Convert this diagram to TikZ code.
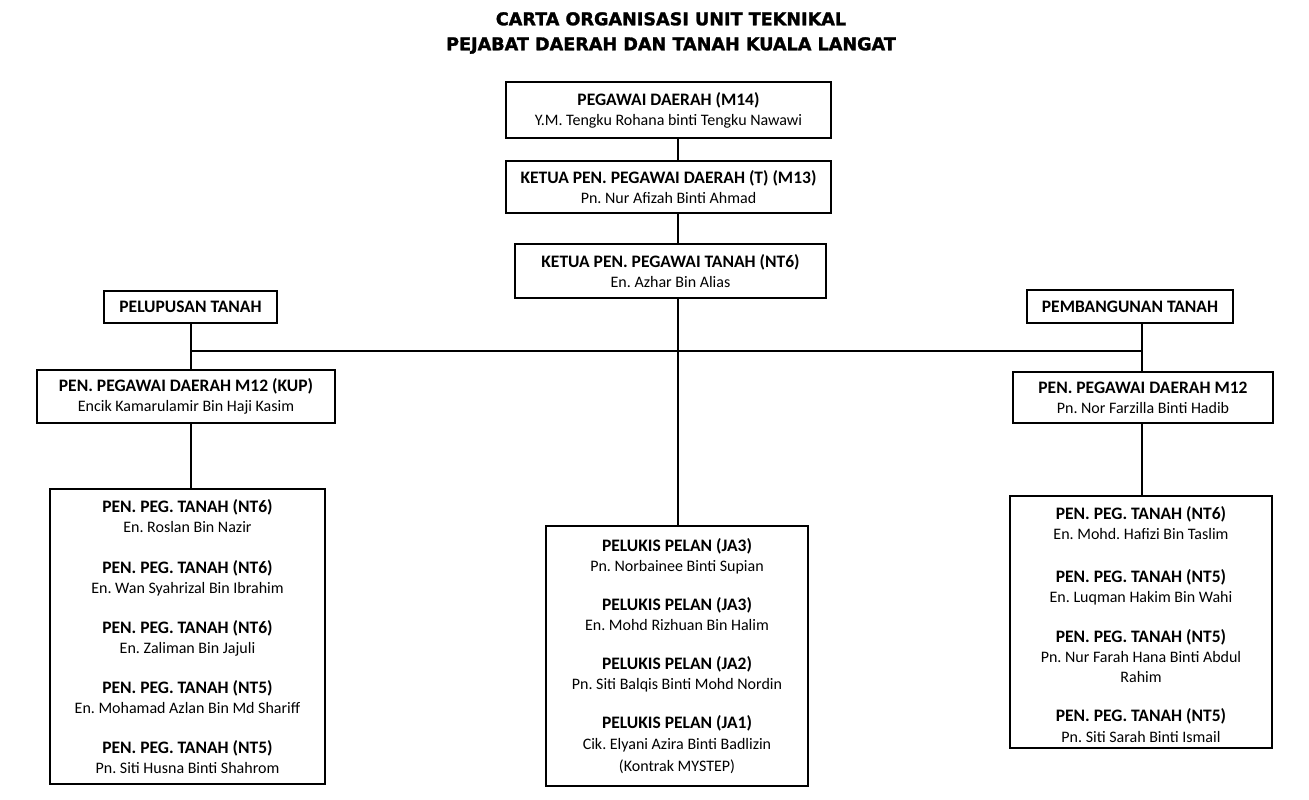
\documentclass[tikz,border=0pt]{standalone}
\usepackage{fontspec}
\setmainfont{Carlito}
\newfontfamily\titlefont{DejaVu Sans}[BoldFeatures={FakeBold=1.6}]
\frenchspacing
\tikzset{
  box/.style={draw, line width=1.6pt, align=center, inner sep=0pt,
    font=\fontsize{16}{20}\selectfont},
  link/.style={line width=2.6pt},
}
\newcommand{\jaw}[1]{{\fontsize{17.5}{20}\selectfont\bfseries #1}}
\begin{document}
\begin{tikzpicture}[x=1pt,y=-1pt]
  \useasboundingbox (0,0) rectangle (1309,800);
  % tajuk
  \node[font=\titlefont\bfseries\fontsize{17.6}{25}\selectfont, align=center] (tajuk)
    at (671,33) {CARTA ORGANISASI UNIT TEKNIKAL\\PEJABAT DAERAH DAN TANAH KUALA LANGAT};
  % pengurusan atas
  \node[box, minimum width=325pt, minimum height=56pt] (pd) at (668.5,110)
    {\jaw{PEGAWAI DAERAH (M14)}\\Y.M. Tengku Rohana binti Tengku Nawawi};
  \node[box, minimum width=325pt, minimum height=52pt] (kppd) at (668.5,187)
    {\jaw{KETUA PEN. PEGAWAI DAERAH (T) (M13)}\\Pn. Nur Afizah Binti Ahmad};
  \node[box, minimum width=311pt, minimum height=54pt] (kppt) at (670.5,271)
    {\jaw{KETUA PEN. PEGAWAI TANAH (NT6)}\\En. Azhar Bin Alias};
  % bahagian
  \node[box, minimum width=173pt, minimum height=32pt] (pelupusan) at (190.5,307)
    {\jaw{PELUPUSAN TANAH}};
  \node[box, minimum width=206pt, minimum height=33pt] (pembangunan) at (1130,306.5)
    {\jaw{PEMBANGUNAN TANAH}};
  \node[box, minimum width=298pt, minimum height=53pt] (ppdkiri) at (186,396.5)
    {\jaw{PEN. PEGAWAI DAERAH M12 (KUP)}\\Encik Kamarulamir Bin Haji Kasim};
  \node[box, minimum width=260pt, minimum height=51pt] (ppdkanan) at (1143,397.5)
    {\jaw{PEN. PEGAWAI DAERAH M12}\\Pn. Nor Farzilla Binti Hadib};
  % kakitangan
  \node[box, minimum width=275pt, minimum height=295pt] (tanahkiri) at (187.5,636.5)
    {\jaw{PEN. PEG. TANAH (NT6)}\\En. Roslan Bin Nazir\\[21pt]
     \jaw{PEN. PEG. TANAH (NT6)}\\En. Wan Syahrizal Bin Ibrahim\\[20pt]
     \jaw{PEN. PEG. TANAH (NT6)}\\En. Zaliman Bin Jajuli\\[20pt]
     \jaw{PEN. PEG. TANAH (NT5)}\\En. Mohamad Azlan Bin Md Shariff\\[20pt]
     \jaw{PEN. PEG. TANAH (NT5)}\\Pn. Siti Husna Binti Shahrom};
  \node[box, minimum width=262pt, minimum height=260pt] (pelukis) at (677,656)
    {\jaw{PELUKIS PELAN (JA3)}\\Pn. Norbainee Binti Supian\\[19pt]
     \jaw{PELUKIS PELAN (JA3)}\\En. Mohd Rizhuan Bin Halim\\[19pt]
     \jaw{PELUKIS PELAN (JA2)}\\Pn. Siti Balqis Binti Mohd Nordin\\[19pt]
     \jaw{PELUKIS PELAN (JA1)}\\[1pt]Cik. Elyani Azira Binti Badlizin\\[2pt](Kontrak MYSTEP)};
  \node[box, minimum width=262pt, minimum height=252pt] (tanahkanan) at (1141,622)
    {\rule{0pt}{19pt}\jaw{PEN. PEG. TANAH (NT6)}\\En. Mohd. Hafizi Bin Taslim\\[23pt]
     \jaw{PEN. PEG. TANAH (NT5)}\\En. Luqman Hakim Bin Wahi\\[20pt]
     \jaw{PEN. PEG. TANAH (NT5)}\\Pn. Nur Farah Hana Binti Abdul\\Rahim\\[19pt]
     \jaw{PEN. PEG. TANAH (NT5)}\\[1pt]Pn. Siti Sarah Binti Ismail};
  % garisan
  \coordinate (tulang) at (678,351);
  \coordinate (kiri) at (191,351);
  \coordinate (kanan) at (1142,351);
  \draw[link] (pd.south -| tulang) -- (kppd.north -| tulang);
  \draw[link] (kppd.south -| tulang) -- (kppt.north -| tulang);
  \draw[link] (kppt.south -| tulang) -- (pelukis.north -| tulang);
  \draw[link] (kiri) -- (kanan);
  \draw[link] (pelupusan.south -| kiri) -- (ppdkiri.north -| kiri);
  \draw[link] (ppdkiri.south -| kiri) -- (tanahkiri.north -| kiri);
  \draw[link] (pembangunan.south -| kanan) -- (ppdkanan.north -| kanan);
  \draw[link] (ppdkanan.south -| kanan) -- (tanahkanan.north -| kanan);
\end{tikzpicture}
\end{document}
